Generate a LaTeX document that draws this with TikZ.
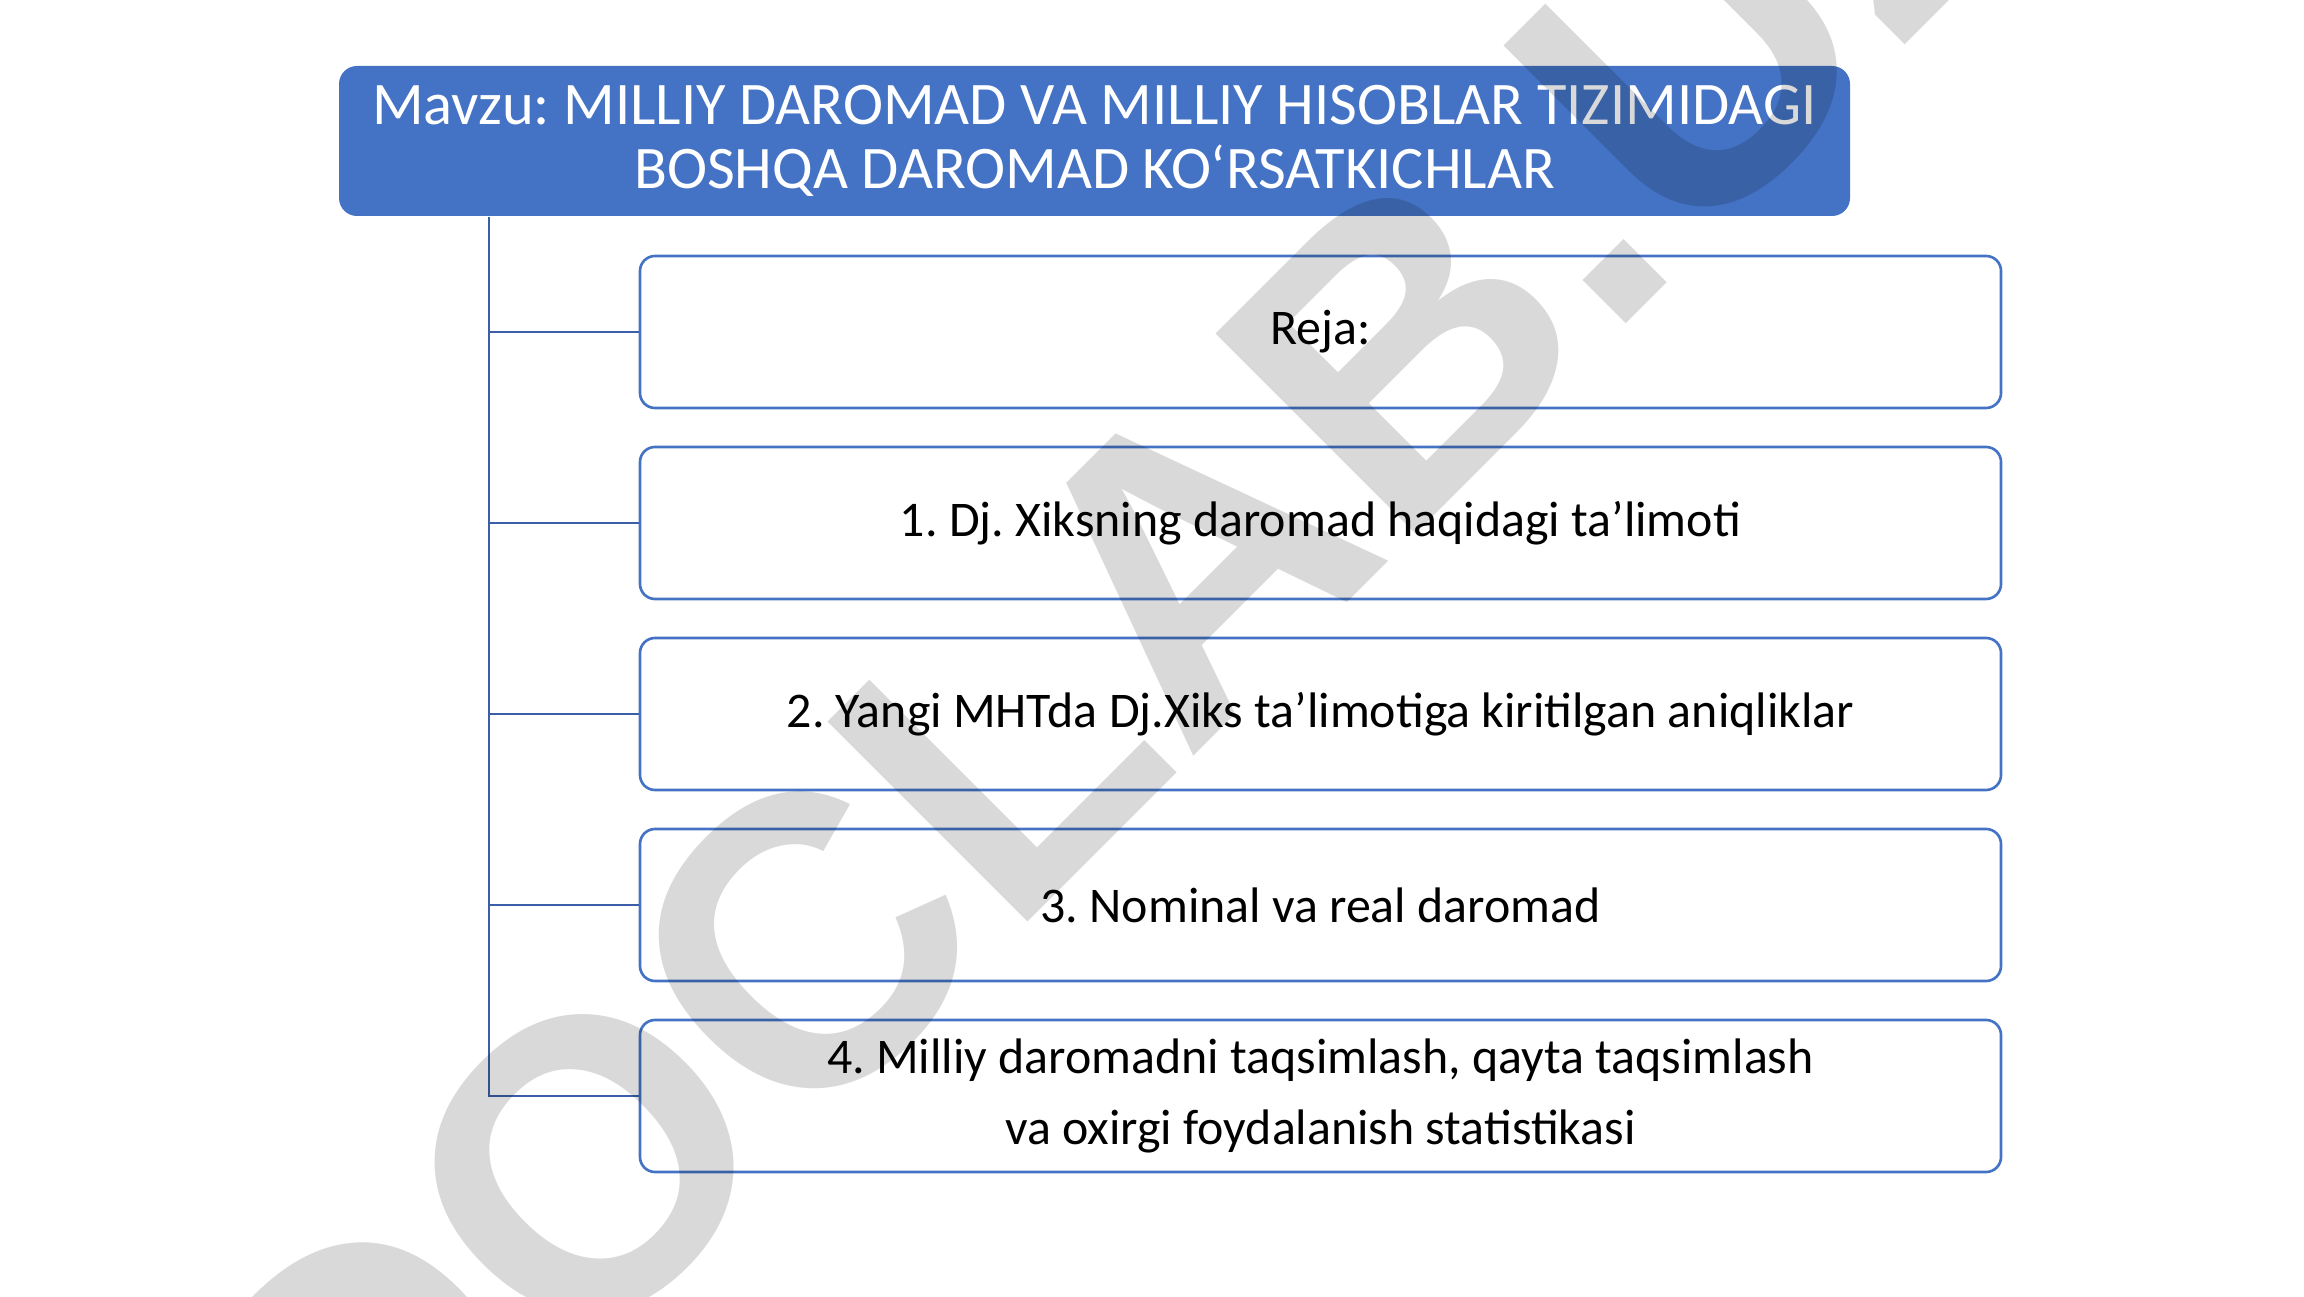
\documentclass[tikz,border=0pt]{standalone}
\usepackage{fontspec}
\setmainfont{Carlito}
\newfontfamily\wmfont{Liberation Sans}
\frenchspacing
\definecolor{accent}{HTML}{4472C4}
\definecolor{linkc}{HTML}{3A5FA8}
\tikzset{
  titlebox/.style={draw=none, fill=accent, rounded corners=0.18cm, minimum width=15.11cm, minimum height=1.50cm, text=white, align=center, font=\fontsize{17.2}{18}\selectfont, inner sep=0pt},
  itembox/.style={draw=accent, line width=0.75pt, fill=white, rounded corners=0.15cm, minimum width=13.61cm, minimum height=1.52cm, align=center, font=\fontsize{14.2}{20}\selectfont, inner sep=0pt},
  link/.style={draw=linkc, line width=0.75pt},
  watermark/.style={rotate=45, anchor=base west, text=black, opacity=0.15, font=\wmfont\bfseries\fontsize{117}{117}\selectfont, inner sep=0pt},
}
\begin{document}
\begin{tikzpicture}
\fill[white] (0,0) rectangle (23.04,12.96);
\useasboundingbox (0,0) rectangle (23.04,12.96);
\node[titlebox] (title) at (10.945,11.55) {Mavzu: MILLIY DAROMAD VA MILLIY HISOBLAR TIZIMIDAGI\\BOSHQA DAROMAD KO‘RSATKICHLAR};
\node[itembox] (b1) at (13.205,9.64) {Reja:};
\node[itembox] (b2) at (13.205,7.73) {1. Dj. Xiksning daromad haqidagi ta’limoti};
\node[itembox] (b3) at (13.205,5.82) {2. Yangi MHTda Dj.Xiks ta’limotiga kiritilgan aniqliklar};
\node[itembox] (b4) at (13.205,3.91) {3. Nominal va real daromad};
\node[itembox] (b5) at (13.205,2.00) {4. Milliy daromadni taqsimlash, qayta taqsimlash\\va oxirgi foydalanish statistikasi};
\coordinate (trunk) at (4.89,0 |- title.south);
\draw[link] (trunk) |- (b5.west);
\foreach \b in {b1,b2,b3,b4}{\draw[link] (trunk |- \b.west) -- (\b.west);}
\node[watermark] (wm) at (3.62,-2.92) {DOCLAB.UZ};
\end{tikzpicture}
\end{document}
